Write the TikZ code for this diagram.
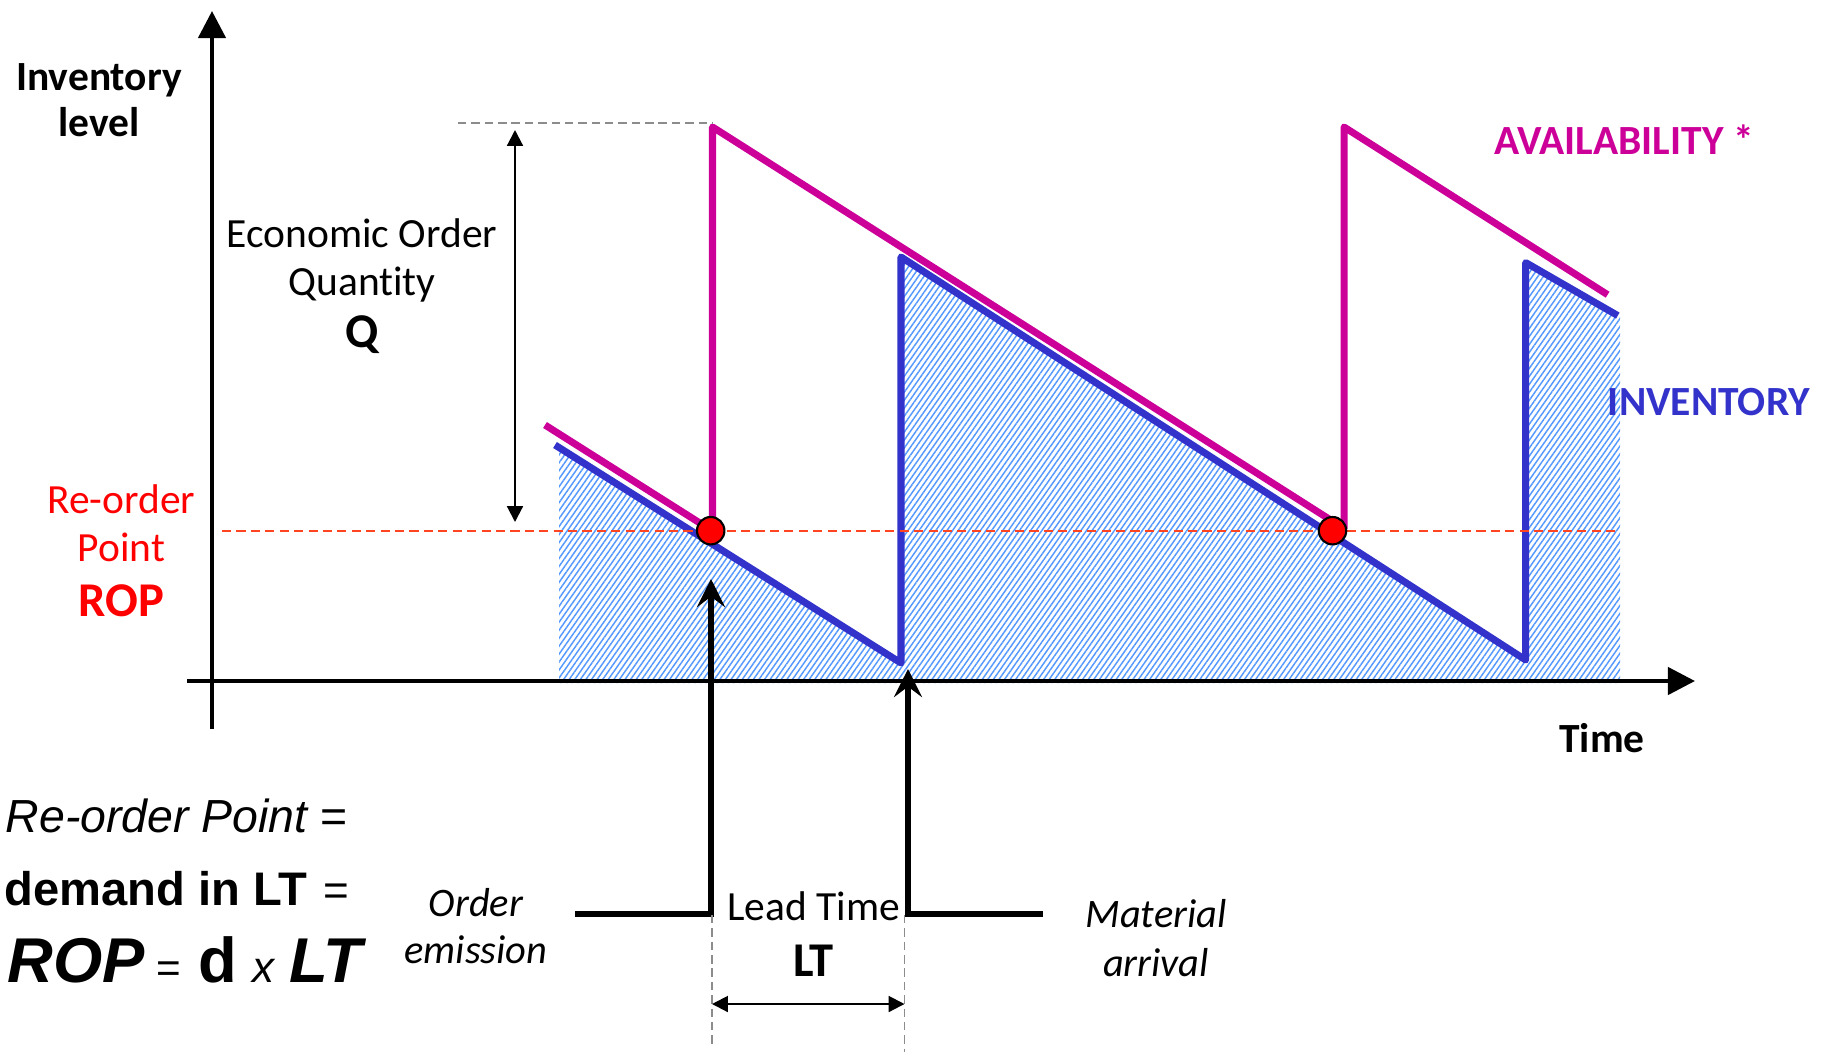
\documentclass[tikz,border=0pt]{standalone}
\usepackage{fontspec}
\setmainfont{Carlito}[RawFeature=-liga]
\newfontfamily\arialf{Liberation Sans}
\usetikzlibrary{arrows.meta,patterns.meta}
\definecolor{magc}{HTML}{CC0099}
\definecolor{bluec}{HTML}{3333CC}
\definecolor{hatchc}{HTML}{5599FF}
\definecolor{ropc}{HTML}{FF4422}
\definecolor{grayc}{HTML}{8C8C8C}
\definecolor{redc}{HTML}{FF0000}
\begin{document}
\begin{tikzpicture}[x=0.01cm,y=-0.01cm,
  txt/.style={inner sep=0pt, anchor=base},
  axis/.style={line width=1.2pt, -{Triangle[length=7.7pt,width=7.7pt]}},
  curve/.style={line width=2pt, line join=round},
  thinarrow/.style={line width=0.6pt, {Triangle[length=4.5pt,width=4.5pt]}-{Triangle[length=4.5pt,width=4.5pt]}},
  event/.style={line width=1.5pt, line join=miter, -{Stealth[length=8pt,width=8pt,inset=3pt]}},
  graydash/.style={grayc, line width=0.5pt, dash pattern=on 2.4pt off 1.4pt},
  dot/.style={circle, fill=redc, draw=black, line width=0.6pt, minimum size=7.8pt, inner sep=0pt},
  f12/.style={font=\fontsize{11.8}{13.4}\selectfont},
  f12b/.style={font=\fontsize{11.8}{13.4}\selectfont\bfseries},
  f14b/.style={font=\fontsize{13.8}{15}\selectfont\bfseries}]
\useasboundingbox (0,0) rectangle (1830,1054);

% hatched inventory area
\fill[pattern={Lines[angle=55,distance=1.3pt,line width=0.42pt]}, pattern color=hatchc]
  (559,447.5) -- (901,663) -- (901,257) -- (1525.7,660) -- (1525.7,262.6) -- (1620,317)
  -- (1620,683) -- (559,683) -- cycle;

% axes
\coordinate (yb) at (212,729);
\coordinate (yt) at (212,11);
\coordinate (xl) at (187,681);
\coordinate (xr) at (1695,681);
\draw[axis] (yb) -- (yt);
\draw[axis] (xl) -- (xr);

% inventory (blue) and availability (magenta)
\draw[bluec, curve] (555,445) -- (901,663) -- (901,257) -- (1525.7,660) -- (1525.7,262.6) -- (1617.8,315.6);
\draw[magc, curve] (545,425) -- (712.5,531) -- (712.5,127) -- (1344,528.5) -- (1344,127) -- (1607.6,294.7);

% reorder point line
\coordinate (ropl) at (222,531);
\coordinate (ropr) at (1615,531);
\draw[ropc, line width=0.65pt, dash pattern=on 2.6pt off 1.5pt] (ropl) -- (ropr);

% EOQ
\coordinate (qa) at (458,123);
\coordinate (qb) at (713,123);
\draw[graydash] (qa) -- (qb);
\coordinate (eoqt) at (515,130);
\coordinate (eoqb) at (515,522);
\draw[thinarrow] (eoqb) -- (eoqt);

% red dots
\node[dot] (d1) at (710.7,530.7) {};
\node[dot] (d2) at (1332.5,530.7) {};

% order emission / material arrival
\coordinate (oe0) at (575,914);
\coordinate (oe1) at (711,914);
\coordinate (oe2) at (711,579);
\draw[event] (oe0) -- (oe1) -- (oe2);
\coordinate (ma0) at (1043,914);
\coordinate (ma1) at (908,914);
\coordinate (ma2) at (908,669);
\draw[event] (ma0) -- (ma1) -- (ma2);

% lead time
\coordinate (lt1a) at (712,915);
\coordinate (lt1b) at (712,1048);
\coordinate (lt2a) at (904.5,915);
\coordinate (lt2b) at (904.5,1052);
\draw[graydash] (lt1a) -- (lt1b);
\draw[graydash] (lt2a) -- (lt2b);
\coordinate (lta) at (712,1004);
\coordinate (ltb) at (904.5,1004);
\draw[thinarrow] (lta) -- (ltb);

% texts
\node[txt, f12b] (inv1) at (99,90) {Inventory};
\node[txt, f12b] (inv2) at (99,136.5) {level};
\node[txt, f12] (eoq1) at (362,247.4) {Economic Order};
\node[txt, f12] (eoq2) at (362,295) {Quantity};
\node[txt, f14b] (eoq3) at (362,347.8) {Q};
\node[txt, f12, text=redc] (rop1) at (121.4,513.5) {Re-order};
\node[txt, f12, text=redc] (rop2) at (121.4,561.4) {Point};
\node[txt, f14b, text=redc] (rop3) at (121.4,616.2) {ROP};
\node[txt, f12b, text=magc] (avail) at (1624,154) {AVAILABILITY *};
\node[txt, f12b, text=bluec] (invt) at (1709,415.5) {INVENTORY};
\node[txt, f12b] (time) at (1602,752.8) {Time};
\node[txt, font=\fontsize{11.5}{13}\selectfont\itshape] (oe1t) at (476,916) {Order};
\node[txt, font=\fontsize{11.5}{13}\selectfont\itshape] (oe2t) at (476,963) {emission};
\node[txt, f12] (lt1t) at (813.5,920.8) {Lead Time};
\node[txt, f14b] (lt2t) at (813.5,976.8) {LT};
\node[txt, font=\fontsize{11.5}{13}\selectfont\itshape] (ma1t) at (1156,927.3) {Material};
\node[txt, font=\fontsize{11.5}{13}\selectfont\itshape] (ma2t) at (1156,976) {arrival};

% formula
\node[inner sep=0pt, anchor=base west, font=\arialf\fontsize{13.2}{15}\selectfont] (fl1) at (5,832)
  {\itshape Re-order Point {\upshape =}};
\node[inner sep=0pt, anchor=base west, font=\arialf\fontsize{13.4}{15}\selectfont] (fl2) at (4,905)
  {\bfseries demand in LT\hspace{4.5pt}{\mdseries\fontsize{12.5}{14}\selectfont =}};
\node[inner sep=0pt, anchor=base west, font=\arialf] (fl3) at (7,982)
  {{\fontsize{18}{20}\selectfont\bfseries\itshape ROP}\hspace{3.2pt}{\fontsize{12}{14}\selectfont =}\hspace{5pt}{\fontsize{18}{20}\selectfont\bfseries d}\hspace{4.3pt}{\fontsize{12.5}{14}\selectfont\itshape x}\hspace{4.5pt}{\fontsize{18}{20}\selectfont\bfseries\itshape LT}};
\end{tikzpicture}
\end{document}
